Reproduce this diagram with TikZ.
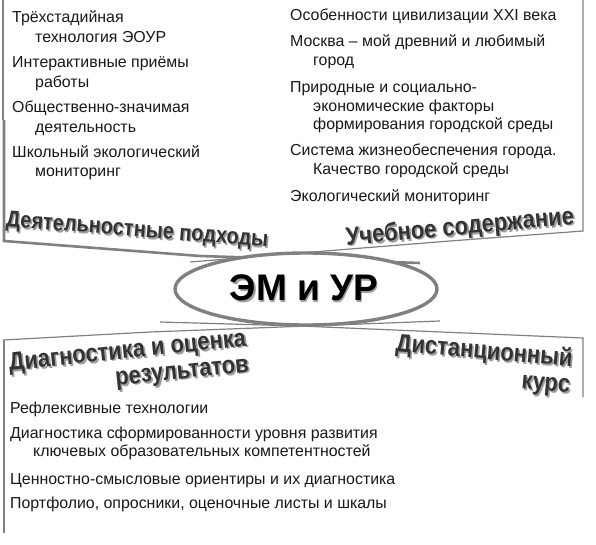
\documentclass[tikz,border=0pt]{standalone}
\usepackage{fontspec}
\setmainfont{Liberation Sans}
\usetikzlibrary{shapes.geometric}
\newcommand{\shd}[1]{\makebox[0pt][l]{\hspace{1.6pt}\raisebox{-1.6pt}{\color{black!38}#1}}#1}
\newcommand{\hdtext}[1]{\scalebox{1}[1.15]{\shd{#1}}}
\begin{document}
\begin{tikzpicture}[x=1pt,y=-1pt,
  itm/.style={anchor=base west,inner sep=0pt,font=\fontsize{15.9}{18}\selectfont,text=black!90},
  hd/.style={inner sep=0pt,font=\fontsize{22}{26}\selectfont\bfseries,text=black!80},
  edge/.style={draw=black!50,line width=1.2pt},
  thick edge/.style={draw=black!50,line width=2.6pt}]
\useasboundingbox (0,0) rectangle (596,545);
\fill[white] (0,0) rectangle (596,545);
% top-left panel
\draw[edge] (3,0) -- (3,120);
\draw[thick edge] (4,120) -- (4,241) -- (200,256) -- (420,263);
% top-right panel
\draw[edge] (583,0) -- (583,231) -- (450,241) -- (350,249) -- (190,262);
% bottom-left panel
\draw[edge] (3,340) -- (150,332) -- (440,321);
\draw[thick edge] (4,340) -- (4,533);
% bottom-right panel
\draw[edge] (583,397) -- (583,338) -- (300,326) -- (160,322);
% ellipse
\node[draw=black!50,line width=3.4pt,fill=white,ellipse,minimum width=262pt,minimum height=72pt,inner sep=0pt] (em) at (306,289) {};
\node[inner sep=0pt,text=black,font=\fontsize{37}{40}\selectfont\bfseries] (emt) at (304,289) {\shd{ЭМ и УР}};
% top-left items
\node[itm] (a1) at (12,23) {Трёхстадийная};
\node[itm] (a2) at (35,43) {технология ЭОУР};
\node[itm] (a3) at (12,68) {Интерактивные приёмы};
\node[itm] (a4) at (35,88) {работы};
\node[itm] (a5) at (12,113) {Общественно-значимая};
\node[itm] (a6) at (35,133) {деятельность};
\node[itm] (a7) at (12,158) {Школьный экологический};
\node[itm] (a8) at (35,177) {мониторинг};
% top-right items
\node[itm] (b1) at (290,21) {Особенности цивилизации XXI века};
\node[itm] (b2) at (290,47) {Москва – мой древний и любимый};
\node[itm] (b3) at (313,66) {город};
\node[itm] (b4) at (290,93) {Природные и социально-};
\node[itm] (b5) at (313,112) {экономические факторы};
\node[itm] (b6) at (313,130) {формирования городской среды};
\node[itm] (b7) at (290,156) {Система жизнеобеспечения города.};
\node[itm] (b8) at (313,175) {Качество городской среды};
\node[itm] (b9) at (290,201) {Экологический мониторинг};
% bottom-left items
\node[itm] (c1) at (10,413) {Рефлексивные технологии};
\node[itm] (c2) at (10,438) {Диагностика сформированности уровня развития};
\node[itm] (c3) at (33,456) {ключевых образовательных компетентностей};
\node[itm] (c4) at (10,484) {Ценностно-смысловые ориентиры и их диагностика};
\node[itm] (c5) at (10,508) {Портфолио, опросники, оценочные листы и шкалы};
% headings
\node[hd,rotate=-4.5,font=\fontsize{20}{22}\selectfont\bfseries] (h1) at (137,232) {\hdtext{Деятельностные подходы}};
\node[hd,rotate=5.3] (h2) at (460,229) {\hdtext{Учебное содержание}};
\node[hd,rotate=6,align=right] (h3) at (129,366) {\hdtext{Диагностика и оценка}\\\hdtext{результатов}};
\node[hd,rotate=-5,align=right] (h5) at (483,366) {\hdtext{Дистанционный}\\\hdtext{курс}};
\end{tikzpicture}
\end{document}
